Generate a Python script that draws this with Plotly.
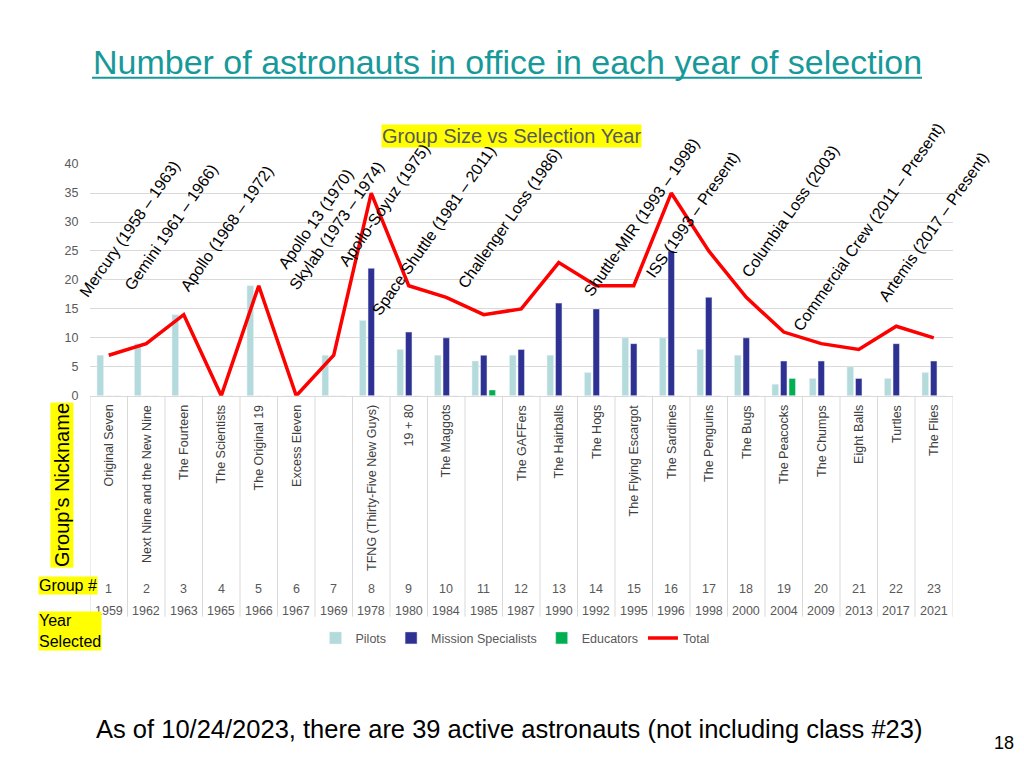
import plotly.graph_objects as go

# ----------------------------------------------------------------------------------------------------------------------------------
# Data

group_num = [1, 2, 3, 4, 5, 6, 7, 8, 9, 10, 11, 12, 13, 14, 15, 16, 17, 18, 19, 20, 21, 22, 23]
years = [1959, 1962, 1963, 1965, 1966, 1967, 1969, 1978, 1980, 1984, 1985, 1987,
         1990, 1992, 1995, 1996, 1998, 2000, 2004, 2009, 2013, 2017, 2021]
nicknames = ["Original Seven", "Next Nine and the New Nine", "The Fourteen", "The Scientists",
             "The Original 19", "Excess Eleven", "", "TFNG (Thirty-Five New Guys)", "19 + 80",
             "The Maggots", "", "The GAFFers", "The Hairballs", "The Hogs", "The Flying Escargot",
             "The Sardines", "The Penguins", "The Bugs", "The Peacocks", "The Chumps",
             "Eight Balls", "Turtles", "The Flies"]

pilots = [7, 9, 14, 0, 19, 0, 7, 13, 8, 7, 6, 7, 7, 4, 10, 10, 8, 7, 2, 3, 5, 3, 4]
mission_specialists = [0, 0, 0, 0, 0, 0, 0, 22, 11, 10, 7, 8, 16, 15, 9, 25, 17, 10, 6, 6, 3, 9, 6]
educators = [0, 0, 0, 0, 0, 0, 0, 0, 0, 0, 1, 0, 0, 0, 0, 0, 0, 0, 3, 0, 0, 0, 0]
total = [7, 9, 14, 0, 19, 0, 7, 35, 19, 17, 14, 15, 23, 19, 19, 35, 25, 17, 11, 9, 8, 12, 10]

eras = ["Mercury (1958 – 1963)", "Gemini 1961 – 1966)", "Apollo (1968 – 1972)",
        "Apollo 13 (1970)", "Skylab (1973 – 1974)", "Apollo-Soyuz (1975)",
        "Space Shuttle (1981 – 2011)", "Challenger Loss (1986)", "Shuttle-MIR (1993 – 1998)",
        "ISS (1993 – Present)", "Columbia Loss (2003)", "Commercial Crew (2011 – Present)",
        "Artemis (2017 – Present)"]

# ----------------------------------------------------------------------------------------------------------------------------------
# Layout helpers (page pixels -> paper coords)

W, H = 1024, 768
FONT = "Liberation Sans, Arial, sans-serif"
GRAY = "#595959"
GRID = "#d9d9d9"
TEAL = "#17999a"


def fx(x):
    return x / W


def fy(y):
    return 1 - y / H


# centres of the rotated era labels, in page pixels
era_pos = [(130, 226), (171, 225), (227, 226), (315, 216), (337, 223), (384, 202),
           (434, 228), (509, 215), (641, 214), (692, 212), (790, 208), (869, 224), (934, 224)]

fig = go.Figure()
fig.add_trace(go.Bar(x=group_num, y=pilots, name="Pilots", marker_color="#b4dbdc"))
fig.add_trace(go.Bar(x=group_num, y=mission_specialists, name="Mission Specialists", marker_color="#2e3192"))
fig.add_trace(go.Bar(x=group_num, y=educators, name="Educators", marker_color="#00b050"))
fig.add_trace(go.Scatter(x=group_num, y=total, name="Total", mode="lines",
                         line=dict(color="#ff0000", width=3.5), cliponaxis=False))

annotations = []

# page title + chart title
annotations.append(dict(text="Number of astronauts in office in each year of selection",
                        x=fx(507), y=fy(56), xref="paper", yref="paper", showarrow=False,
                        xanchor="center", yanchor="middle",
                        font=dict(family=FONT, size=34, color=TEAL)))
annotations.append(dict(text="Group Size vs Selection Year", x=fx(511), y=fy(131),
                        xref="paper", yref="paper", showarrow=False, xanchor="center", yanchor="middle",
                        bgcolor="#ffff00", borderpad=0,
                        font=dict(family=FONT, size=20, color=GRAY)))

# era labels
for txt, (cx, cy) in zip(eras, era_pos):
    annotations.append(dict(text=txt, x=fx(cx), y=fy(cy), xref="paper", yref="paper",
                            showarrow=False, textangle=-55, xanchor="center", yanchor="middle",
                            font=dict(family=FONT, size=16, color="black")))

# table under the axis
for g, nick, yr in zip(group_num, nicknames, years):
    if nick:
        annotations.append(dict(text=nick, x=g, y=fy(403), xref="x", yref="paper", showarrow=False,
                                textangle=-90, xanchor="center", yanchor="top",
                                font=dict(family=FONT, size=12.5, color="#404040")))
    annotations.append(dict(text=str(g), x=g, y=fy(593), xref="x", yref="paper", showarrow=False,
                            xanchor="center", yanchor="middle",
                            font=dict(family=FONT, size=12.5, color=GRAY)))
    annotations.append(dict(text=str(yr), x=g, y=fy(615), xref="x", yref="paper", showarrow=False,
                            xanchor="center", yanchor="middle",
                            font=dict(family=FONT, size=12.5, color=GRAY)))

# row headers
annotations.append(dict(text="Group’s Nickname", x=fx(62), y=fy(487), xref="paper", yref="paper",
                        showarrow=False, textangle=-90, xanchor="center", yanchor="middle",
                        bgcolor="#ffff00", borderpad=0, font=dict(family=FONT, size=20, color="black")))
annotations.append(dict(text="Group #", x=fx(38), y=fy(589), xref="paper", yref="paper",
                        showarrow=False, xanchor="left", yanchor="middle",
                        bgcolor="#ffff00", borderpad=0, font=dict(family=FONT, size=16, color="black")))
annotations.append(dict(text="Year<br>Selected", x=fx(38), y=fy(636), xref="paper", yref="paper",
                        showarrow=False, xanchor="left", yanchor="middle", align="left",
                        bgcolor="#ffff00", borderpad=0, font=dict(family=FONT, size=16, color="black")))

# footer
annotations.append(dict(text="As of 10/24/2023, there are 39 active astronauts (not including class #23)",
                        x=fx(509), y=fy(735), xref="paper", yref="paper", showarrow=False,
                        xanchor="center", yanchor="middle", font=dict(family=FONT, size=25.5, color="black")))
annotations.append(dict(text="18", x=fx(1004), y=fy(750), xref="paper", yref="paper", showarrow=False,
                        xanchor="center", yanchor="middle", font=dict(family=FONT, size=18, color="black")))

# category dividers running through the table
shapes = []
for g in [0] + group_num:
    shapes.append(dict(type="line", xref="x", yref="paper", x0=g + 0.5, x1=g + 0.5,
                       y0=fy(396), y1=fy(621), line=dict(color=GRID, width=1)))
# title underline
shapes.append(dict(type="line", xref="paper", yref="paper", x0=fx(92), x1=fx(922),
                   y0=fy(72), y1=fy(72), line=dict(color=TEAL, width=2)))

fig.update_layout(
    width=W, height=H,
    margin=dict(l=0, r=0, t=0, b=0),
    paper_bgcolor="white", plot_bgcolor="white",
    barmode="group", bargap=0.32, bargroupgap=0.24,
    font=dict(family=FONT, color=GRAY),
    annotations=annotations,
    shapes=shapes,
    showlegend=True,
    legend=dict(orientation="h", x=fx(515), y=fy(643), xanchor="center", yanchor="middle",
                font=dict(family=FONT, size=12.5, color=GRAY), bgcolor="rgba(0,0,0,0)",
                traceorder="normal", itemwidth=30),
    xaxis=dict(domain=[fx(90), fx(952.5)], range=[0.5, 23.5], showticklabels=False,
               showgrid=False, zeroline=False, showline=True, linecolor=GRID, fixedrange=True),
    yaxis=dict(domain=[fy(396), fy(160)], range=[0, 40], dtick=5, showgrid=True,
               gridcolor=GRID, zeroline=False, ticks="outside", ticklen=8,
               tickcolor="rgba(0,0,0,0)", tickfont=dict(family=FONT, size=12.5, color=GRAY),
               fixedrange=True),
)

fig.write_html("out.html", config={"displayModeBar": False},
               post_script="document.body.style.margin='0';document.body.style.overflow='hidden';")
